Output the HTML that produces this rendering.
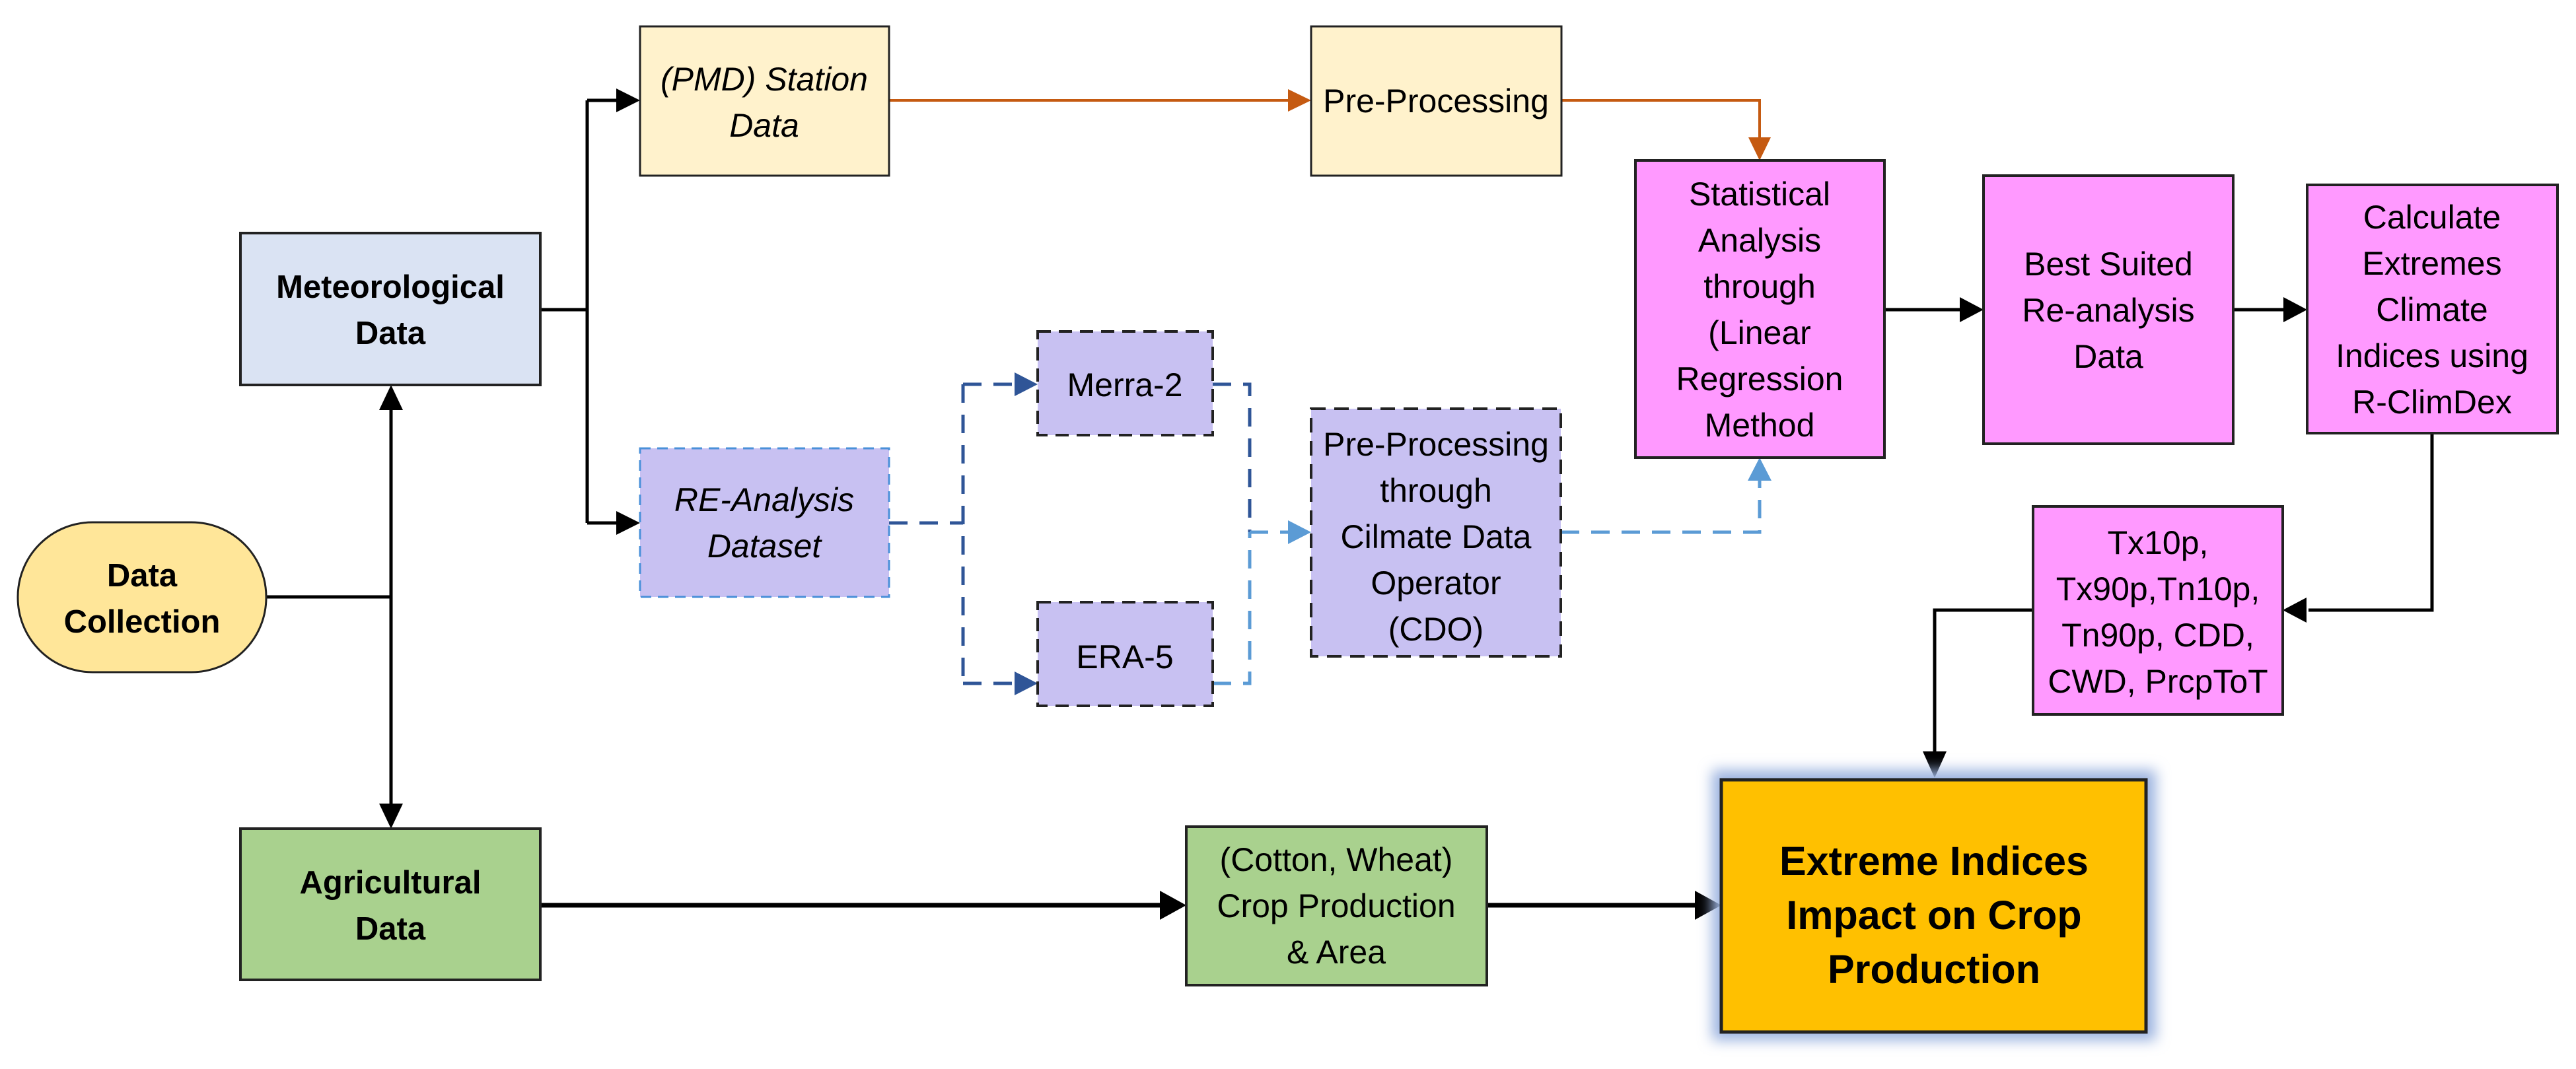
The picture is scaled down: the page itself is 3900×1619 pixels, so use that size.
<!DOCTYPE html>
<html><head><meta charset="utf-8"><style>
html,body{margin:0;padding:0;background:#fff;}
svg{display:block;}
text{font-family:"Liberation Sans",sans-serif;font-size:50px;fill:#000;text-anchor:middle;}
.b{font-weight:bold;font-size:49px;}
.i{font-style:italic;}
</style></head><body>
<svg width="3900" height="1619" viewBox="0 0 3900 1619" xmlns="http://www.w3.org/2000/svg">
<defs>
<filter id="glow" x="-10%" y="-10%" width="120%" height="120%"><feGaussianBlur stdDeviation="10"/></filter>
</defs>

<g stroke="#000" stroke-width="5" fill="none">
<polyline points="818,469 889,469"/>
<polyline points="889,152 889,792"/>
<polyline points="889,152 935,152"/>
<polyline points="889,792 935,792"/>
<polyline points="403,904 592,904"/>
<polyline points="592,615 592,1220"/>
<polyline points="2853,469 2970,469"/>
<polyline points="3381,469 3460,469"/>
<polyline points="3682,656 3682,924 3495,924"/>
<polyline points="3078,924 2929,924 2929,1140"/>
<polyline points="2251,1371 2570,1371" stroke-width="7"/>
<polyline points="818,1371 1760,1371" stroke-width="7"/>
</g>
<g fill="#000">
<polygon points="969,152 933,134 933,170"/>
<polygon points="969,792 933,774 933,810"/>
<polygon points="592,583 574,621 610,621"/>
<polygon points="592,1255 574,1217 610,1217"/>
<polygon points="3003,469 2967,450 2967,488"/>
<polygon points="3493,469 3457,450 3457,488"/>
<polygon points="3456,924 3492,905 3492,943"/>
<polygon points="2929,1178 2911,1138 2947,1138"/>
<polygon points="1796,1371 1756,1349 1756,1393"/>
<polygon points="2606,1371 2566,1349 2566,1393"/>
</g>

<g stroke="#C55A11" stroke-width="4" fill="none">
<polyline points="1346,152 1950,152"/>
<polyline points="2364,152 2664,152 2664,210"/>
</g>
<g fill="#C55A11">
<polygon points="1985,152 1950,135 1950,169"/>
<polygon points="2664,243 2647,208 2681,208"/>
</g>

<g stroke="#2F5597" stroke-width="5" fill="none" stroke-dasharray="28,18">
<polyline points="1346,792 1458,792"/>
<polyline points="1458,582 1458,1035"/>
<polyline points="1458,582 1540,582"/>
<polyline points="1458,1035 1540,1035"/>
<polyline points="1836,582 1892,582 1892,806"/>
</g>
<g fill="#2F5597">
<polygon points="1571,582 1536,564 1536,600"/>
<polygon points="1571,1035 1536,1017 1536,1053"/>
</g>
<g stroke="#5B9BD5" stroke-width="5" fill="none" stroke-dasharray="28,18">
<polyline points="1836,1035 1892,1035 1892,806"/>
<polyline points="1892,806 1950,806"/>
<polyline points="2363,806 2664,806 2664,728"/>
</g>
<g fill="#5B9BD5">
<polygon points="1985,806 1950,788 1950,824"/>
<polygon points="2664,693 2646,728 2682,728"/>
</g>

<rect x="969" y="40" width="377" height="226" fill="#FFF2CC" stroke="#222" stroke-width="3"/>
<text class="i" x="1157" y="137">(PMD) Station</text>
<text class="i" x="1157" y="207">Data</text>

<rect x="1985" y="40" width="379" height="226" fill="#FFF2CC" stroke="#222" stroke-width="3"/>
<text x="2174" y="170">Pre-Processing</text>

<rect x="364" y="353" width="454" height="230" fill="#DAE3F3" stroke="#222" stroke-width="4"/>
<text class="b" x="591" y="451">Meteorological</text>
<text class="b" x="591" y="521">Data</text>

<rect x="27" y="791" width="376" height="227" rx="113" fill="#FFE699" stroke="#222" stroke-width="3"/>
<text class="b" x="215" y="888">Data</text>
<text class="b" x="215" y="958">Collection</text>

<rect x="969" y="679" width="377" height="225" fill="#C8C1F2" stroke="#4A90D9" stroke-width="3" stroke-dasharray="16,10"/>
<text class="i" x="1157" y="774">RE-Analysis</text>
<text class="i" x="1157" y="844">Dataset</text>

<rect x="1571" y="502" width="265" height="157" fill="#C8C1F2" stroke="#222" stroke-width="4" stroke-dasharray="20,12"/>
<text x="1703" y="600">Merra-2</text>

<rect x="1571" y="912" width="265" height="157" fill="#C8C1F2" stroke="#222" stroke-width="4" stroke-dasharray="20,12"/>
<text x="1703" y="1012">ERA-5</text>

<rect x="1985" y="619" width="378" height="375" fill="#C8C1F2" stroke="#222" stroke-width="4" stroke-dasharray="22,13"/>
<text x="2174" y="690">Pre-Processing</text>
<text x="2174" y="760">through</text>
<text x="2174" y="830">Cilmate Data</text>
<text x="2174" y="900">Operator</text>
<text x="2174" y="970">(CDO)</text>

<rect x="2476" y="243" width="377" height="450" fill="#FF99FF" stroke="#222" stroke-width="4"/>
<text x="2664" y="311">Statistical</text>
<text x="2664" y="381">Analysis</text>
<text x="2664" y="451">through</text>
<text x="2664" y="521">(Linear</text>
<text x="2664" y="591">Regression</text>
<text x="2664" y="661">Method</text>

<rect x="3003" y="266" width="378" height="406" fill="#FF99FF" stroke="#222" stroke-width="4"/>
<text x="3192" y="417">Best Suited</text>
<text x="3192" y="487">Re-analysis</text>
<text x="3192" y="557">Data</text>

<rect x="3493" y="280" width="379" height="376" fill="#FF99FF" stroke="#222" stroke-width="4"/>
<text x="3682" y="346">Calculate</text>
<text x="3682" y="416">Extremes</text>
<text x="3682" y="486">Climate</text>
<text x="3682" y="556">Indices using</text>
<text x="3682" y="626">R-ClimDex</text>

<rect x="3078" y="767" width="378" height="315" fill="#FF99FF" stroke="#222" stroke-width="4"/>
<text x="3267" y="839">Tx10p,</text>
<text x="3267" y="909">Tx90p,Tn10p,</text>
<text x="3267" y="979">Tn90p, CDD,</text>
<text x="3267" y="1049">CWD, PrcpToT</text>

<rect x="364" y="1255" width="454" height="229" fill="#A9D18E" stroke="#222" stroke-width="4"/>
<text class="b" x="591" y="1353">Agricultural</text>
<text class="b" x="591" y="1423">Data</text>

<rect x="1796" y="1252" width="455" height="240" fill="#A9D18E" stroke="#222" stroke-width="4"/>
<text x="2023" y="1319">(Cotton, Wheat)</text>
<text x="2023" y="1389">Crop Production</text>
<text x="2023" y="1459">&amp; Area</text>

<rect x="2592" y="1166" width="672" height="410" fill="#9DB4E0" filter="url(#glow)"/>
<rect x="2606" y="1181" width="643" height="382" fill="#FFC000" stroke="#222" stroke-width="5"/>
<text class="b" x="2928" y="1325" style="font-size:61px">Extreme Indices</text>
<text class="b" x="2928" y="1407" style="font-size:61px">Impact on Crop</text>
<text class="b" x="2928" y="1489" style="font-size:61px">Production</text>
</svg>
</body></html>
